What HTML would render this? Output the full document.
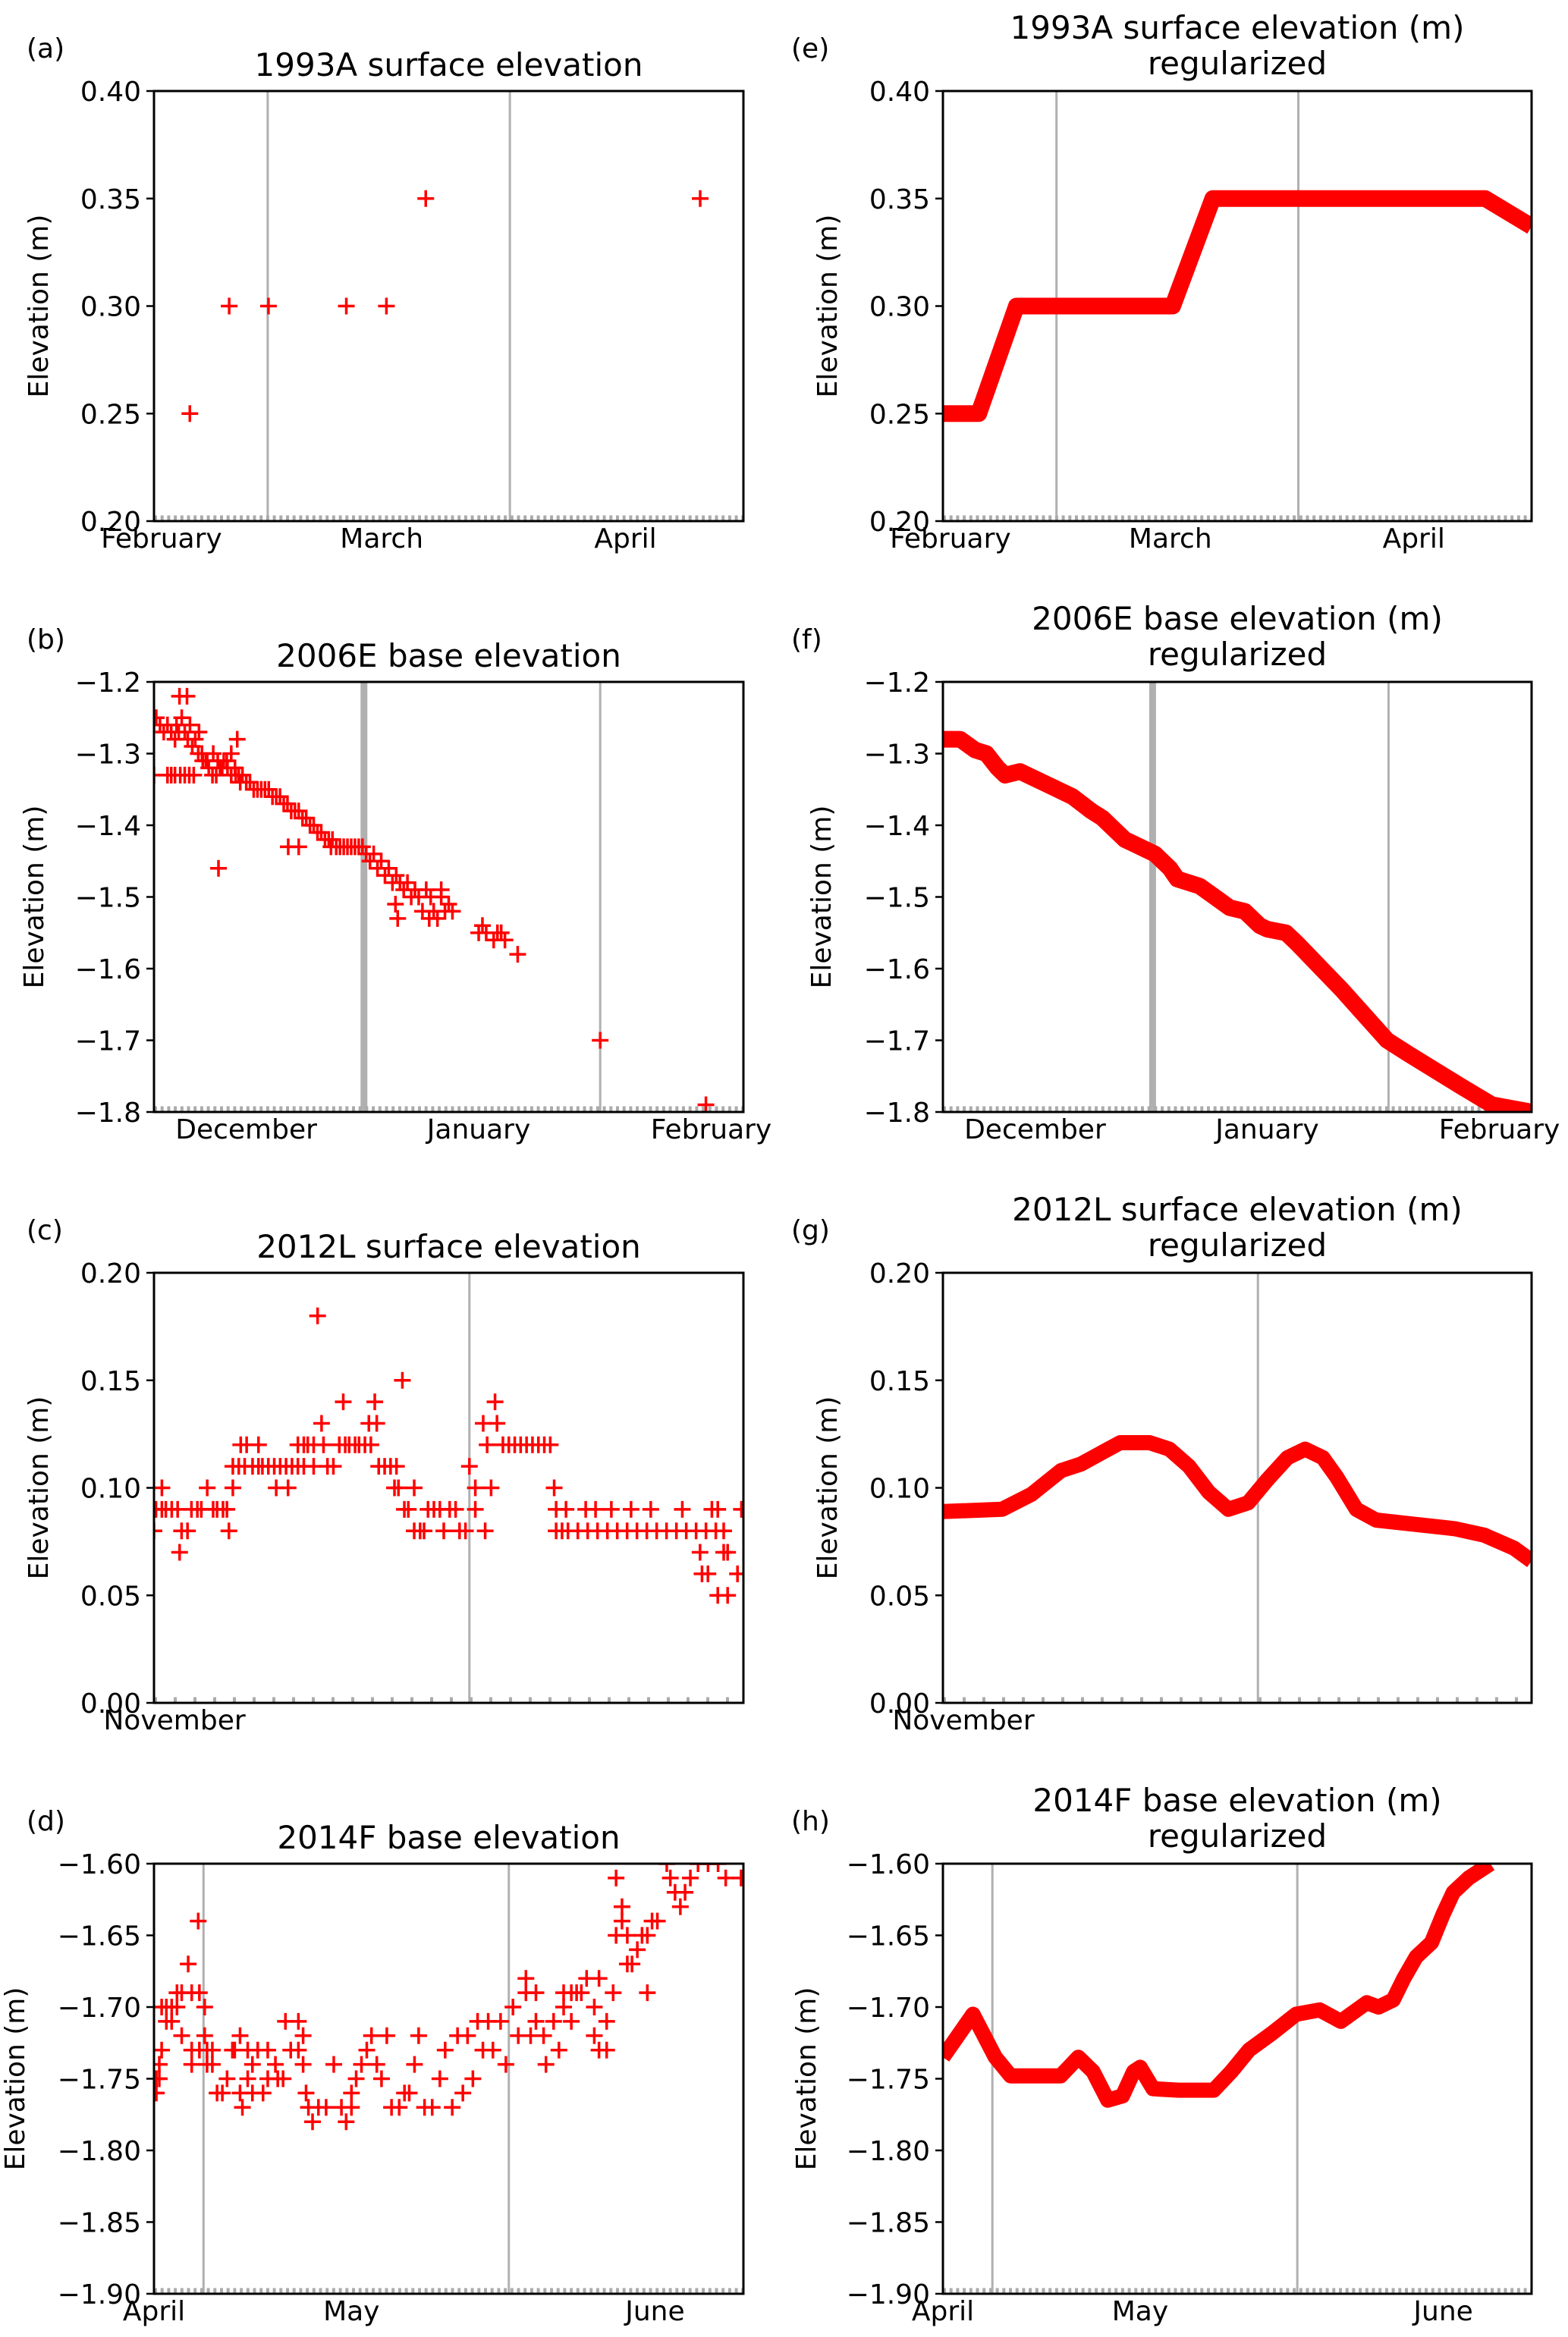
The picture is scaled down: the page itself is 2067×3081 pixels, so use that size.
<!DOCTYPE html>
<html><head><meta charset="utf-8"><style>
html,body{margin:0;padding:0;background:#fff;}
svg{display:block;font-family:"DejaVu Sans","Liberation Sans",sans-serif;}
</style></head><body>
<svg id="fig" width="2067" height="3081" viewBox="0 0 2067 3081" xmlns="http://www.w3.org/2000/svg">
<rect width="2067" height="3081" fill="#fff"/>
</svg>
<script>
// ---- data (x in days / axis units, y in metres) ----
const aDays=[3.6,8.6,13.6,23.5,28.6,33.6,68.5];
const aVals=[0.25,0.30,0.30,0.30,0.30,0.35,0.35];
const eDays=[-1,3.6,8.4,28.3,33.4,68.1,74];
const eVals=[0.25,0.25,0.30,0.30,0.35,0.35,0.337];
const bDays=[-12.3,-12,-11.5,-11,-10.5,-10,-9.5,-9.3,-9,-8.6,-8.2,-7.8,-7.5,-7.2,-6.8,-6.3,-5.9,-12.3,-10.5,-10,-9.5,-8.8,-8.2,-7.6,-7,-6.4,-5.8,-5.4,-5,-4.5,-4,-3.5,-3,-2.5,-2,-1.5,-1,-0.5,-8.9,-7.9,-1.2,-3.7,-5.2,-4.4,-3.8,-3.2,-2.6,-2,-1.4,-0.8,0,0.5,1,1.5,2,2.5,3,3.5,4,4.5,5,5.5,6,6.5,7,7.5,8,8.5,9,9.5,10,10.5,11,11.5,12,12.5,13,13.5,14,14.5,15,15.5,16,5.6,7,11.3,16.5,17,17.5,18,18.5,19,19.5,20,20.5,21,21.5,22,22.5,23,23.5,24,19.9,20.2,24.4,25,25.5,26,26.5,27,27.5,24.6,26,31,31.5,32,33,33.5,34,34.5,36.2,47.2,61.3];
const bVals=[-1.26,-1.25,-1.26,-1.27,-1.26,-1.27,-1.28,-1.26,-1.27,-1.25,-1.27,-1.28,-1.26,-1.29,-1.28,-1.27,-1.30,-1.33,-1.33,-1.33,-1.33,-1.33,-1.33,-1.33,-1.33,-1.30,-1.31,-1.31,-1.32,-1.33,-1.33,-1.32,-1.31,-1.32,-1.33,-1.32,-1.33,-1.33,-1.22,-1.22,-1.28,-1.46,-1.31,-1.30,-1.31,-1.32,-1.31,-1.30,-1.33,-1.34,-1.34,-1.34,-1.35,-1.35,-1.35,-1.35,-1.35,-1.36,-1.36,-1.36,-1.37,-1.37,-1.38,-1.38,-1.38,-1.39,-1.39,-1.40,-1.40,-1.41,-1.41,-1.42,-1.42,-1.42,-1.43,-1.43,-1.43,-1.43,-1.43,-1.43,-1.43,-1.43,-1.44,-1.43,-1.43,-1.43,-1.45,-1.44,-1.46,-1.45,-1.47,-1.46,-1.48,-1.47,-1.48,-1.49,-1.48,-1.50,-1.49,-1.50,-1.52,-1.49,-1.51,-1.53,-1.53,-1.52,-1.53,-1.50,-1.52,-1.51,-1.52,-1.50,-1.49,-1.55,-1.54,-1.55,-1.56,-1.55,-1.55,-1.56,-1.58,-1.70,-1.79];
const fDays=[-12.3,-10,-8,-6.5,-5,-4,-2,-1,2,5,7.5,9,11,12,13,16,18,19,22,24,26,28,30,31,33.5,35,41,47,50,57,61,66.3];
const fVals=[-1.28,-1.28,-1.295,-1.30,-1.32,-1.33,-1.325,-1.33,-1.345,-1.36,-1.38,-1.39,-1.41,-1.42,-1.425,-1.44,-1.46,-1.475,-1.485,-1.50,-1.515,-1.52,-1.54,-1.545,-1.55,-1.565,-1.63,-1.70,-1.72,-1.765,-1.79,-1.80];
const c08=[0,1.4,1.7,3.8,13.2,13.5,13.7,14.7,15.5,15.8,16.8,20.4,20.7,21,21.5,22,22.5,23,23.5,24,24.5,25,25.5,26,26.5,27,27.5,28,28.5,28.9];
const c09=[0.1,0.4,0.6,0.9,1.2,1.9,2.2,2.4,3,3.2,3.5,3.7,12.7,12.9,13.9,14.2,14.5,15,15.3,16.3,20.4,20.9,21.9,22.4,23.2,24.2,25.2,26.8,28.3,28.6,29.8];
const c10=[0.4,2.7,4,6.2,6.8,12.2,12.4,13.2,16.3,17.1,20.3];
const c07=[1.3,27.7,28.9,29.1];
const c06=[27.8,28.1,29.6];
const c05=[28.6,29.1];
const c11=[4,4.3,4.6,5,5.3,5.5,5.8,6.1,6.4,6.7,7,7.3,7.6,8.1,8.8,9.1,11.4,11.7,12,12.3,16.0];
const c12=[4.4,4.7,5.3,7.3,7.6,7.8,8.1,8.6,9.4,9.7,9.9,10.2,10.4,10.7,11,16.9,17.7,18,18.3,18.6,18.9,19.2,19.5,19.8,20.1];
const c13=[8.5,10.9,11.3,16.7,17.4];
const c14=[9.6,11.2,17.3];
const c15=[12.6];
const c18=[8.3];
const gDays=[0,3,4.5,6,7,8,9,10.5,11.5,12.5,13.5,14.5,15.5,16.5,17.5,18.4,19.3,20,21,22,24,26,27.5,29,29.9];
const gVals=[0.089,0.090,0.097,0.108,0.111,0.116,0.121,0.121,0.118,0.110,0.098,0.090,0.093,0.104,0.114,0.118,0.114,0.105,0.090,0.085,0.083,0.081,0.078,0.072,0.066];
const dT=[0.4,0.4,0.9,0.9,1.3,1.3,2.1,2.1,3,3,3.9,3.9,4.7,4.7,5.8,6.4,6.4,6.4,7.5,7.7,7.7,8.6,8.6,9,9,9.9,9.9,10.7,11.6,12.4,13.3,13.7,14.6,14.6,15,15.9,15.9,16.7,16.7,17.6,18.5,19.3,19.3,20.6,21,21.9,22.3,23.2,24.5,24.5,25.3,25.3,25.8,26.2,26.9,27.9,29.2,30.5,31.8,32.6,33.5,33.5,34.3,35.2,36.1,36.9,37.8,38.6,39.5,40.3,41.6,42.5,43.3,44.2,44.9,45.9,47.2,48.5,49.4,50.6,51.5,52.4,53.2,54.1,54.9,55.8,56.7,57.5,58.8,59.7,60.9,61.8,63.1,63.1,63.9,64.8,64.8,66.1,66.5,67.8,68.7,69.5,69.5,70.8,70.8,71.7,72.5,73.4,74.7,74.7,75.5,75.5,76.8,76.8,77.9,78.4,78.4,79.4,79.4,80.3,80.3,81.1,82,82.8,83.7,83.7,84.5,85.4,87,87.6,88.4,89.3,90.1,91,92.3,94,95.7,97,99.6];
const dV=[-1.75,-1.76,-1.74,-1.75,-1.73,-1.70,-1.70,-1.71,-1.71,-1.70,-1.70,-1.69,-1.72,-1.69,-1.67,-1.73,-1.74,-1.69,-1.64,-1.69,-1.73,-1.70,-1.72,-1.73,-1.74,-1.73,-1.74,-1.76,-1.76,-1.75,-1.73,-1.73,-1.72,-1.76,-1.77,-1.75,-1.73,-1.76,-1.74,-1.73,-1.76,-1.75,-1.73,-1.74,-1.75,-1.75,-1.71,-1.73,-1.71,-1.73,-1.72,-1.74,-1.76,-1.77,-1.78,-1.77,-1.77,-1.74,-1.77,-1.78,-1.77,-1.76,-1.75,-1.74,-1.73,-1.72,-1.74,-1.75,-1.72,-1.77,-1.77,-1.76,-1.76,-1.74,-1.72,-1.77,-1.77,-1.75,-1.73,-1.77,-1.72,-1.76,-1.72,-1.75,-1.71,-1.73,-1.71,-1.73,-1.71,-1.74,-1.70,-1.72,-1.68,-1.69,-1.72,-1.71,-1.69,-1.72,-1.74,-1.71,-1.73,-1.69,-1.70,-1.71,-1.69,-1.69,-1.69,-1.68,-1.70,-1.72,-1.68,-1.73,-1.71,-1.73,-1.69,-1.65,-1.61,-1.63,-1.64,-1.65,-1.67,-1.67,-1.66,-1.65,-1.69,-1.65,-1.64,-1.64,-1.60,-1.61,-1.62,-1.63,-1.62,-1.61,-1.60,-1.60,-1.60,-1.61,-1.61];
const hT=[0,5.1,8.9,11.5,18,20,23,25.5,28,30.5,32.4,33.5,35.7,40,46,49,52,56,60,64,67.6,72,74,76.5,78.3,80.4,83,85,86.7,89.3,93];
const hV=[-1.735,-1.705,-1.735,-1.748,-1.748,-1.748,-1.735,-1.745,-1.765,-1.762,-1.745,-1.742,-1.757,-1.758,-1.758,-1.745,-1.73,-1.718,-1.705,-1.702,-1.71,-1.697,-1.70,-1.695,-1.68,-1.665,-1.655,-1.635,-1.62,-1.61,-1.60];
const yTicksA=[0.20,0.25,0.30,0.35,0.40];
const yTicksB=[-1.8,-1.7,-1.6,-1.5,-1.4,-1.3,-1.2];
const yTicksC=[0.00,0.05,0.10,0.15,0.20];
const yTicksD=[-1.90,-1.85,-1.80,-1.75,-1.70,-1.65,-1.60];
const monthsA=["February","March","April"]; const monthPosA=[0,28,59];
const monthsB=["December","January","February"]; const monthPosB=[0,31,62];
const monthsC=["November"]; const monthPosC=[1.04];
const monthsD=["April","May","June"]; const monthPosD=[0,33.5,85];

const NS="http://www.w3.org/2000/svg";
const svg=document.getElementById('fig');
function el(tag,attrs,parent){const e=document.createElementNS(NS,tag);for(const k in attrs)e.setAttribute(k,attrs[k]);(parent||svg).appendChild(e);return e;}
const ROWS=[120,899,1678,2457], H=567;
const COLS=[[203,980],[1243,2019]];
function fmt(v,dec){const s=Math.abs(v).toFixed(dec);return (v<0?"\u2212":"")+s;}

function panel(o){
  const [L,R]=COLS[o.col]; const T=ROWS[o.row], B=T+H;
  const g=el('g',{});  
  const xs=v=>L+(v-o.xd[0])/(o.xd[1]-o.xd[0])*(R-L);
  const ys=v=>B-(v-o.yd[0])/(o.yd[1]-o.yd[0])*(B-T);
  const clipId='clip-'+o.name;
  const cp=el('clipPath',{id:clipId},g); el('rect',{x:L,y:T,width:R-L,height:H},cp);
  const plot=el('g',{'clip-path':`url(#${clipId})`},g);
  o.gray.forEach(([d,w])=>{const ln=el('line',{x1:xs(d),x2:xs(d),y1:T,y2:B,stroke:'#b0b0b0','stroke-width':w},plot);
     });
  const band=el('line',{x1:L,x2:R,y1:B-4,y2:B-4,stroke:'#aaaaaa','stroke-width':7,'stroke-dasharray':o.dash},plot);
   
  if(o.points){o.points.forEach(([xa,ya])=>{for(let i=0;i<xa.length;i++){const cx=xs(xa[i]),cy=ys(ya[i]);
      const p=el('path',{d:`M${cx-11},${cy}H${cx+11}M${cx},${cy-11}V${cy+11}`,stroke:'#ff0000','stroke-width':3.5,fill:'none'},plot);
       }});}
  if(o.line){const [xa,ya]=o.line;const pts=xa.map((x,i)=>xs(x).toFixed(1)+','+ys(ya[i]).toFixed(1)).join(' ');
    const pl=el('polyline',{points:pts,fill:'none',stroke:'#ff0000','stroke-width':o.lw,'stroke-linejoin':'round','stroke-linecap':'butt'},plot);
     }
  const fr=el('rect',{x:L,y:T,width:R-L,height:H,fill:'none',stroke:'#000','stroke-width':3},g);
   
  o.yt.forEach(v=>{const y=ys(v);el('line',{x1:L-10,x2:L,y1:y,y2:y,stroke:'#000','stroke-width':2.5},g);
    const t=el('text',{x:L-17,y:y+13,'text-anchor':'end','font-size':36,fill:'#000'},g);t.textContent=fmt(v,o.ydec);
     });
  o.months.forEach((m,i)=>{const t=el('text',{x:xs(o.mpos[i]),y:B+35,'text-anchor':'middle','font-size':36,fill:'#000'},g);t.textContent=m;
     });
  const yl=el('text',{x:0,y:0,'text-anchor':'middle','font-size':36,fill:'#000',transform:`translate(${o.ylx},${(T+B)/2}) rotate(-90)`},g);
  yl.textContent='Elevation (m)';  
  const cx=(L+R)/2;
  if(o.title2){const t1=el('text',{x:cx,y:T-69,'text-anchor':'middle','font-size':42},g);t1.textContent=o.title;
    const t2=el('text',{x:cx,y:T-22,'text-anchor':'middle','font-size':42},g);t2.textContent=o.title2;
     
     }
  else{const t1=el('text',{x:cx,y:T-20,'text-anchor':'middle','font-size':42},g);t1.textContent=o.title;
     }
  const lt=el('text',{x:o.col?1043:35,y:T-44,'font-size':36},g);lt.textContent=o.letter;
   
}
const AX={xd:[-0.96,74.0],gray:[[13.5,3],[44.3,3]],months:monthsA,mpos:monthPosA,yd:[0.2,0.4],yt:yTicksA,ydec:2,dash:'4 4.7'};
const BX={xd:[-12.3,66.3],gray:[[15.7,9],[47.2,3]],months:monthsB,mpos:monthPosB,yd:[-1.8,-1.2],yt:yTicksB,ydec:1,dash:'4 4.7'};
const CX={xd:[0,29.9],gray:[[16.0,3]],months:monthsC,mpos:monthPosC,yd:[0,0.2],yt:yTicksC,ydec:2,dash:'4 22'};
const DX={xd:[0,100],gray:[[8.4,3],[60.2,3]],months:monthsD,mpos:monthPosD,yd:[-1.9,-1.6],yt:yTicksD,ydec:2,dash:'4 4.7'};
const cPts=[[c05,0.05],[c06,0.06],[c07,0.07],[c08,0.08],[c09,0.09],[c10,0.10],[c11,0.11],[c12,0.12],[c13,0.13],[c14,0.14],[c15,0.15],[c18,0.18]].map(([a,v])=>[a,a.map(()=>v)]);
panel(Object.assign({},AX,{name:'panel-a',col:0,row:0,letter:'(a)',title:'1993A surface elevation',ylx:63,points:[[aDays,aVals]]}));
panel(Object.assign({},BX,{name:'panel-b',col:0,row:1,letter:'(b)',title:'2006E base elevation',ylx:57,points:[[bDays,bVals]]}));
panel(Object.assign({},CX,{name:'panel-c',col:0,row:2,letter:'(c)',title:'2012L surface elevation',ylx:63,points:cPts}));
panel(Object.assign({},DX,{name:'panel-d',col:0,row:3,letter:'(d)',title:'2014F base elevation',ylx:32,points:[[dT,dV]]}));
panel(Object.assign({},AX,{name:'panel-e',col:1,row:0,letter:'(e)',title:'1993A surface elevation (m)',title2:'regularized',ylx:1103,line:[eDays,eVals],lw:22}));
panel(Object.assign({},BX,{name:'panel-f',col:1,row:1,letter:'(f)',title:'2006E base elevation (m)',title2:'regularized',ylx:1095,line:[fDays,fVals],lw:22}));
panel(Object.assign({},CX,{name:'panel-g',col:1,row:2,letter:'(g)',title:'2012L surface elevation (m)',title2:'regularized',ylx:1103,line:[gDays,gVals],lw:20}));
panel(Object.assign({},DX,{name:'panel-h',col:1,row:3,letter:'(h)',title:'2014F base elevation (m)',title2:'regularized',ylx:1075,line:[hT,hV],lw:20}));
</script>
</body></html>
